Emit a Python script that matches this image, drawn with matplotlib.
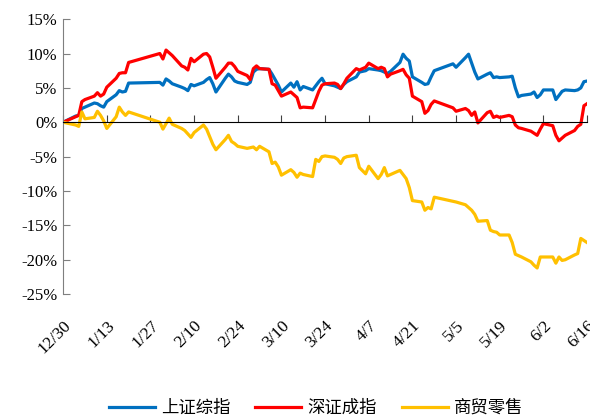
import pandas as pd
import matplotlib.pyplot as plt
from matplotlib.ticker import FuncFormatter

plt.rcParams['font.family'] = ['Liberation Serif', 'Noto Sans CJK SC', 'DejaVu Sans']

# 2022-12-30 .. 2023-06-16, cumulative change (%)
dates = ["12-30", "01-03", "01-04", "01-05", "01-06", "01-09", "01-10", "01-11", "01-12", "01-13",
         "01-16", "01-17", "01-18", "01-19", "01-20", "01-30", "01-31", "02-01", "02-02", "02-03",
         "02-06", "02-07", "02-08", "02-09", "02-10", "02-13", "02-14", "02-15", "02-16", "02-17",
         "02-20", "02-21", "02-22", "02-23", "02-24", "02-27", "02-28", "03-01", "03-02", "03-03",
         "03-06", "03-07", "03-08", "03-09", "03-10", "03-13", "03-14", "03-15", "03-16", "03-17",
         "03-20", "03-21", "03-22", "03-23", "03-24", "03-27", "03-28", "03-29", "03-30", "03-31",
         "04-03", "04-04", "04-06", "04-07", "04-10", "04-11", "04-12", "04-13", "04-14", "04-17",
         "04-18", "04-19", "04-20", "04-21", "04-24", "04-25", "04-26", "04-27", "04-28", "05-04",
         "05-05", "05-08", "05-09", "05-10", "05-11", "05-12", "05-15", "05-16", "05-17", "05-18",
         "05-19", "05-22", "05-23", "05-24", "05-25", "05-26", "05-29", "05-30", "05-31", "06-01",
         "06-02", "06-05", "06-06", "06-07", "06-08", "06-09", "06-12", "06-13", "06-14", "06-15",
         "06-16"]

sh_index = [0.0, 0.9, 1.0, 2.0, 2.2, 2.8, 2.7, 2.4, 2.2, 3.0,
            4.0, 4.6, 4.4, 4.5, 5.7, 5.8, 5.4, 6.3, 6.0, 5.6,
            5.1, 4.9, 4.6, 5.5, 5.3, 5.8, 6.2, 6.5, 5.6, 4.4,
            6.4, 7.0, 6.6, 6.0, 5.8, 5.5, 5.8, 7.3, 7.7, 7.8,
            7.7, 7.0, 6.2, 5.4, 4.4, 5.7, 5.1, 5.9, 4.7, 5.2,
            4.7, 5.3, 5.9, 6.4, 5.6, 5.3, 5.1, 4.9, 5.5, 5.9,
            6.6, 7.3, 7.5, 7.8, 7.6, 7.5, 7.3, 7.1, 7.4, 8.7,
            9.9, 9.3, 8.9, 6.6, 5.8, 5.5, 5.6, 6.6, 7.5, 8.5,
            8.0, 9.4, 9.9, 8.6, 7.3, 6.3, 7.0, 7.2, 6.5, 6.6,
            6.5, 6.6, 6.7, 5.0, 3.7, 3.9, 4.1, 4.4, 3.6, 4.0,
            4.7, 4.7, 3.3, 3.9, 4.5, 4.7, 4.6, 4.7, 5.0, 5.9,
            6.0]

sz_index = [0.0, 0.8, 1.0, 3.0, 3.3, 3.8, 4.3, 3.8, 4.1, 5.1,
            6.4, 7.1, 7.2, 7.2, 8.7, 10.0, 9.2, 10.5, 10.1, 9.7,
            8.2, 8.0, 7.6, 9.3, 8.8, 9.9, 10.0, 9.5, 8.0, 6.4,
            8.0, 8.6, 8.6, 8.1, 7.4, 6.8, 6.2, 7.8, 8.2, 7.8,
            7.7, 5.6, 5.4, 4.6, 3.8, 4.4, 4.0, 3.6, 2.1, 2.2,
            2.1, 3.3, 4.5, 5.4, 5.6, 5.7, 5.5, 4.9, 5.6, 6.4,
            7.8, 7.6, 8.0, 8.6, 7.8, 8.0, 7.8, 6.6, 7.0, 7.5,
            7.7, 6.9, 6.4, 3.8, 3.0, 1.3, 1.7, 2.6, 3.1, 2.1,
            1.6, 2.0, 1.7, 1.0, 1.5, -0.1, 1.4, 1.6, 0.7, 0.9,
            0.7, 1.0, 0.8, -0.4, -0.8, -0.9, -1.3, -1.6, -1.9, -1.0,
            -0.2, -0.5, -1.9, -2.7, -2.3, -1.9, -1.2, -0.6, -0.3, 2.4,
            2.7]

retail = [0.0, -0.4, -0.6, 1.5, 0.5, 0.7, 1.6, 1.0, 0.2, -0.9,
          0.8, 2.2, 1.5, 1.0, 1.5, 0.0, -1.0, -0.2, 0.6, -0.3,
          -0.9, -1.2, -1.7, -2.2, -1.5, -0.4, -1.0, -2.1, -3.2, -4.0,
          -2.5, -1.9, -2.8, -3.1, -3.5, -3.8, -3.7, -3.6, -4.0, -3.5,
          -4.3, -6.0, -5.8, -6.5, -7.7, -6.9, -7.3, -8.0, -7.4, -7.6,
          -7.9, -5.4, -5.7, -5.0, -4.9, -5.1, -5.4, -6.0, -5.2, -5.0,
          -4.8, -6.6, -7.5, -6.4, -8.2, -7.6, -6.6, -7.8, -7.6, -7.0,
          -7.6, -8.2, -9.5, -11.4, -11.6, -12.8, -12.4, -12.6, -10.9, -11.5,
          -11.6, -12.0, -12.4, -12.8, -13.4, -14.4, -14.3, -15.7, -15.9, -16.0,
          -16.4, -16.4, -17.5, -19.2, -19.4, -19.6, -20.3, -20.8, -21.2, -19.6,
          -19.6, -19.6, -20.5, -19.6, -20.1, -20.0, -19.3, -19.1, -16.9, -17.2,
          -17.5]

series = [("上证综指", sh_index, "#0070C0"),
          ("深证成指", sz_index, "#FF0000"),
          ("商贸零售", retail, "#FFC000")]

x = pd.to_datetime([("2022-" if d.startswith("12") else "2023-") + d for d in dates])
tick_dates = pd.date_range("2022-12-30", "2023-06-16", freq="14D")

fig = plt.figure(figsize=(5.9, 4.16), dpi=100)
ax = fig.add_axes([0.107, 0.293, 0.888, 0.661])

for name, vals, color in series:
    ax.plot(x, vals, color=color, lw=2.3, label=name)

ax.set_xlim(x[0], x[-1])
ax.set_ylim(-25, 15)
ax.set_yticks(range(-25, 16, 5))
ax.yaxis.set_major_formatter(FuncFormatter(lambda v, p: f"{v:.0f}%"))

ax.spines['top'].set_visible(False)
ax.spines['right'].set_visible(False)
ax.spines['left'].set_color('#7f7f7f')
ax.spines['bottom'].set_position(('data', 0))
ax.spines['bottom'].set_color('black')
ax.set_xticks(tick_dates)
ax.tick_params(axis='x', direction='in', length=5, labelbottom=False, color='#404040')
ax.tick_params(axis='y', direction='in', length=5, labelsize=12, pad=4, color='#7f7f7f')

# date labels sit under the plot area, not on the zero line
sec = ax.secondary_xaxis('bottom')
sec.set_xticks(tick_dates)
sec.set_xticklabels([f"{d.month}/{d.day}" for d in tick_dates])
sec.spines['bottom'].set_visible(False)
sec.tick_params(length=0, labelsize=12.5, pad=17)
for lab in sec.get_xticklabels():
    lab.set_rotation(45)
    lab.set_ha('right')
    lab.set_rotation_mode('anchor')

fig.legend(loc='center', bbox_to_anchor=(0.536, 0.02), ncol=3, frameon=False,
           prop={'family': 'Noto Sans CJK SC', 'size': 12.5},
           handlelength=2.65, handletextpad=0.35, columnspacing=1.45)

fig.savefig("out.png", dpi=100)
